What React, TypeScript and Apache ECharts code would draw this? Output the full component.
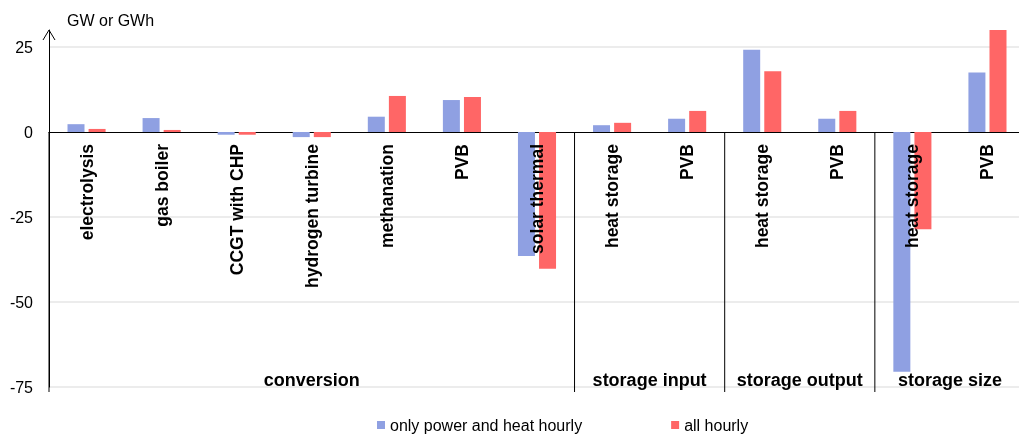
import React, { useEffect, useRef } from "react";
import * as echarts from "echarts";

const categories = [
  "electrolysis",
  "gas boiler",
  "CCGT with CHP",
  "hydrogen turbine",
  "methanation",
  "PVB",
  "solar thermal",
  "heat storage",
  "PVB",
  "heat storage",
  "PVB",
  "heat storage",
  "PVB",
];
const onlyPowerHeat = [2.3, 4.1, -0.8, -1.5, 4.5, 9.4, -36.5, 2.0, 3.9, 24.2, 3.9, -70.5, 17.5];
const allHourly = [0.9, 0.6, -0.8, -1.5, 10.6, 10.3, -40.2, 2.7, 6.2, 17.9, 6.2, -28.6, 30.0];
const seriesNames = ["only power and heat hourly", "all hourly"];
const groups = ["conversion", "storage input", "storage output", "storage size"];
const groupSizes = [7, 2, 2, 2];
const gridValues = [25, -25, -50, -75];
const yMin = -75;
const yMax = 30;
const yInterval = 25;
const unitLabel = "GW or GWh";

const FONT = '"Liberation Sans", Arial, sans-serif';

export default function App() {
  const ref = useRef<HTMLDivElement>(null);
  useEffect(() => {
    if (!ref.current) return;
    const chart = echarts.init(ref.current, undefined, { renderer: "svg" });
    const groupData: number[][] = [];
    let acc = 0;
    groupSizes.forEach((s) => {
      groupData.push([acc, acc + s]);
      acc += s;
    });
    const total = acc;
    chart.setOption({
      animation: false,
      grid: {
        left: 49,
        top: 30,
        width: 976,
        height: 357,
        containLabel: false,
        outerBoundsMode: "none",
      },
      legend: {
        data: seriesNames,
        left: 372,
        top: 412,
        icon: "rect",
        itemWidth: 8,
        itemHeight: 8,
        itemGap: 89,
        textStyle: { fontSize: 16, color: "#000", fontFamily: FONT },
      },
      graphic: [
        {
          type: "text",
          x: 67,
          y: 20.5,
          style: {
            text: unitLabel,
            fill: "#000",
            fontSize: 16,
            fontFamily: FONT,
            verticalAlign: "middle",
          },
        },
      ],
      xAxis: [
        {
          type: "category",
          data: categories.map((c, i) => i + "|" + c),
          axisLine: { onZero: true, lineStyle: { color: "#000", width: 1 } },
          axisTick: { show: false },
          splitLine: { show: false },
          axisLabel: { show: false },
        },
        { type: "value", min: 0, max: total, show: false },
      ],
      yAxis: {
        type: "value",
        min: yMin,
        max: yMax,
        interval: yInterval,
        axisLine: { show: true, onZero: false, lineStyle: { color: "#000", width: 1 } },
        axisTick: { show: false },
        splitLine: { show: false },
        axisLabel: {
          margin: 16,
          fontSize: 16,
          color: "#000",
          fontFamily: FONT,
          formatter: (v: number) => (v === yMax ? "" : String(v)),
        },
      },
      series: [
        {
          type: "custom",
          xAxisIndex: 1,
          z: 0,
          silent: true,
          data: [[0]],
          renderItem: (params: any, api: any) => {
            const children: any[] = gridValues.map((v) => {
              const a = api.coord([0, v]);
              const b = api.coord([total, v]);
              return {
                type: "line",
                shape: { x1: a[0], y1: a[1], x2: b[0], y2: b[1] },
                style: { stroke: "#d9d9d9", lineWidth: 1 },
              };
            });
            const tip = api.coord([0, yMax]);
            children.push({
              type: "polyline",
              shape: { points: [[tip[0] - 6, tip[1] + 10], [tip[0], tip[1]], [tip[0] + 6, tip[1] + 10]] },
              style: { stroke: "#000", lineWidth: 1, fill: "none" },
            });
            return { type: "group", children };
          },
        },
        {
          type: "custom",
          xAxisIndex: 1,
          z: 3,
          silent: true,
          data: groupData,
          renderItem: (params: any, api: any) => {
            const s = api.value(0);
            const e = api.value(1);
            const top = api.coord([s, 0]);
            const bot = api.coord([s, yMin]);
            const endPt = api.coord([e, yMin]);
            return {
              type: "group",
              children: [
                {
                  type: "line",
                  shape: { x1: top[0], y1: top[1], x2: top[0], y2: bot[1] + 5 },
                  style: { stroke: "#000", lineWidth: 1 },
                },
                {
                  type: "text",
                  x: (bot[0] + endPt[0]) / 2,
                  y: bot[1] - 7,
                  style: {
                    text: groups[params.dataIndex],
                    fill: "#000",
                    fontSize: 18,
                    fontWeight: "bold",
                    fontFamily: FONT,
                    align: "center",
                    verticalAlign: "middle",
                  },
                },
              ],
            };
          },
        },
        {
          type: "custom",
          xAxisIndex: 0,
          z: 4,
          silent: true,
          data: categories.map((c, i) => [i, 0]),
          renderItem: (params: any, api: any) => {
            const p = api.coord([api.value(0), 0]);
            return {
              type: "text",
              x: p[0],
              y: p[1] + 12,
              rotation: Math.PI / 2,
              style: {
                text: categories[params.dataIndex],
                fill: "#000",
                fontSize: 17.5,
                fontWeight: "bold",
                fontFamily: FONT,
                align: "right",
                verticalAlign: "middle",
              },
            };
          },
        },
        {
          name: seriesNames[0],
          type: "bar",
          data: onlyPowerHeat,
          barWidth: 17,
          barGap: "24%",
          z: 2,
          itemStyle: { color: "#8FA0E2" },
        },
        {
          name: seriesNames[1],
          type: "bar",
          data: allHourly,
          barWidth: 17,
          barGap: "24%",
          z: 2,
          itemStyle: { color: "#FF6666" },
        },
      ],
    });
    return () => chart.dispose();
  }, []);
  return (
    <div
      ref={ref}
      style={{ position: "fixed", left: 0, top: 0, width: 1019, height: 434 }}
    />
  );
}
